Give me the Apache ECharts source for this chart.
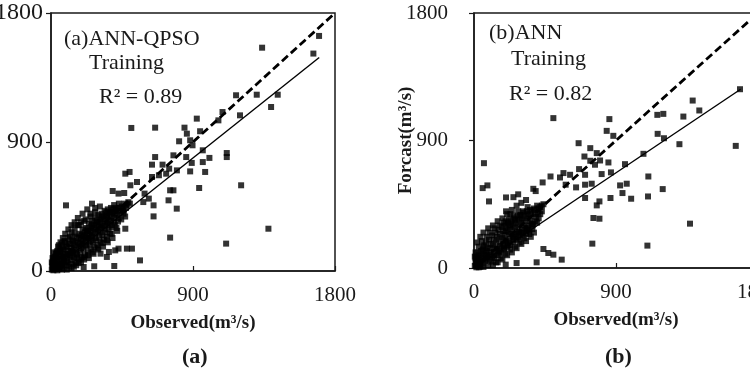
<!DOCTYPE html>
<html><head><meta charset="utf-8">
<script src="https://cdn.jsdelivr.net/npm/echarts@6/dist/echarts.min.js"></script>
<style>html,body{margin:0;padding:0;background:#fff}#c{width:750px;height:375px}</style>
</head><body><div id="c"></div>
<script>
// ---- data ----
const axisTicks = [0, 900, 1800];
const identityLine = [[0, 0], [1800, 1800]];
const fitA = [[0, 0], [1700, 1490]];
const fitB = [[0, 0], [1690, 1262]];

const outliersA = [[1699,1640],[1338,1558],[1663,1517],[1173,1226],[1304,1230],[1437,1230],[1395,1144],[1087,1109],[1198,1086],[1061,1051],[924,1063],[509,998],[660,1000],[846,1000],[861,958],[945,975],[882,912],[812,905],[897,877],[962,842],[776,807],[660,795],[857,795],[1004,789],[962,760],[892,754],[1114,823],[1114,795],[640,742],[707,742],[749,714],[798,702],[882,695],[977,691],[939,579],[1205,598],[730,679],[684,668],[640,656],[498,691],[471,679],[545,621],[503,598],[464,544],[391,558],[428,540],[593,540],[755,563],[776,563],[797,435],[745,493],[650,458],[585,481],[620,505],[650,381],[471,295],[1378,295],[95,458],[755,233],[1110,191],[428,156],[481,156],[513,156],[407,144],[564,74],[401,35],[274,33],[207,28],[367,133],[314,121],[354,98]];
const blobA = [[5,10],[10,30],[15,5],[20,45],[25,15],[30,60],[35,25],[40,80],[45,40],[50,15],[50,100],[55,60],[60,30],[60,130],[65,85],[70,50],[75,110],[80,20],[80,150],[85,70],[90,120],[95,40],[100,170],[100,95],[105,60],[110,140],[115,30],[120,190],[120,110],[125,75],[130,160],[135,50],[140,210],[140,130],[145,95],[150,180],[155,60],[160,240],[160,150],[165,115],[170,200],[175,80],[180,260],[180,170],[185,130],[190,220],[195,95],[200,290],[200,190],[205,150],[210,240],[215,110],[220,300],[220,205],[225,170],[230,260],[235,130],[240,330],[240,225],[245,185],[250,280],[255,150],[260,350],[260,240],[265,200],[270,300],[275,165],[280,370],[280,260],[285,215],[290,320],[295,180],[300,390],[300,275],[305,235],[310,340],[315,200],[320,400],[320,300],[325,250],[330,360],[335,220],[340,420],[340,315],[345,270],[350,380],[355,240],[360,430],[360,330],[365,290],[370,400],[375,260],[380,440],[380,350],[385,305],[390,415],[400,460],[400,370],[405,320],[410,430],[420,390],[425,345],[430,470],[440,410],[445,360],[450,450],[460,420],[470,380],[480,460],[30,120],[45,170],[60,200],[75,230],[90,260],[110,290],[130,320],[150,340],[170,370],[200,400],[230,430],[260,470],[100,10],[130,20],[160,40],[190,60],[210,80],[240,90],[270,120],[300,150],[330,170],[360,200],[390,230],[420,280],[250,380],[280,410],[310,450],[150,260],[120,240],[180,320],[210,350],[60,160],[85,210],[10,90],[20,130],[5,60],[40,5],[70,10]];
const blobA2 = [[15,70],[25,100],[35,130],[45,20],[55,140],[65,40],[75,150],[85,100],[95,170],[105,120],[115,190],[125,140],[135,220],[145,165],[155,200],[165,90],[175,230],[185,190],[195,250],[205,220],[215,270],[225,230],[235,290],[245,250],[255,310],[265,270],[275,330],[285,290],[295,340],[305,310],[315,360],[325,320],[335,380],[345,340],[355,390],[365,360],[375,410],[385,380],[395,430],[405,400],[415,440],[425,420],[435,440],[455,430],[465,470],[475,440],[490,480],[500,470],[100,60],[130,100],[160,120],[190,160],[220,180],[250,210],[280,230],[310,270],[340,290],[370,320],[400,340],[430,370],[460,400],[145,30],[175,55],[205,95],[235,110],[265,130],[295,160],[325,195],[355,215],[385,260],[415,300],[90,200],[110,230],[130,270],[150,300],[170,320],[190,340],[220,360],[250,400],[280,440],[40,140],[50,180],[70,190],[20,90],[8,50],[12,20],[30,40],[55,45],[80,80],[60,100],[35,100],[200,250],[230,280],[260,320],[290,350],[320,380],[350,410]];

const outliersB = [[1686,1262],[503,1058],[858,1051],[1386,1182],[1428,1112],[1162,1081],[1200,1088],[1327,1069],[841,968],[883,933],[1164,947],[1204,916],[1302,874],[1659,862],[663,881],[737,846],[700,787],[778,811],[737,757],[799,759],[767,729],[852,745],[1074,806],[957,733],[809,663],[868,675],[704,658],[666,698],[609,658],[567,670],[545,639],[485,646],[435,604],[376,559],[391,543],[581,588],[647,569],[704,588],[746,595],[926,583],[968,595],[941,529],[996,489],[865,494],[1105,646],[1196,557],[1103,505],[795,470],[778,442],[704,494],[757,353],[795,348],[1369,313],[750,172],[1099,158],[63,740],[55,564],[85,583],[95,470],[203,498],[203,400],[556,59],[503,94],[471,106],[440,134],[397,40],[270,35],[201,24]];
const blobB = [[5,15],[10,40],[15,5],[20,60],[25,25],[30,90],[35,45],[40,10],[45,120],[50,70],[55,30],[60,150],[65,95],[70,50],[75,180],[80,120],[85,75],[90,20],[95,200],[100,140],[105,95],[110,45],[115,230],[120,160],[125,115],[130,70],[135,250],[140,180],[145,135],[150,90],[155,270],[160,200],[165,155],[170,110],[175,290],[180,215],[185,170],[190,130],[195,300],[200,235],[205,190],[210,150],[215,320],[220,250],[225,205],[230,165],[235,330],[240,270],[245,225],[250,185],[255,350],[260,285],[265,240],[270,200],[275,360],[280,300],[285,255],[290,215],[295,375],[300,320],[305,270],[310,230],[315,390],[320,335],[325,285],[330,245],[335,400],[340,350],[345,300],[350,260],[355,410],[360,365],[365,315],[370,275],[380,420],[385,380],[390,330],[400,440],[405,390],[410,350],[420,430],[430,400],[440,450],[60,250],[90,280],[120,300],[150,330],[180,350],[210,380],[240,410],[270,440],[300,460],[330,480],[120,20],[150,40],[180,60],[210,90],[240,110],[270,140],[300,170],[330,190],[360,220],[380,250],[20,180],[40,220],[250,500],[280,520],[310,400],[340,430],[230,380],[200,330],[10,110],[5,80],[30,5],[60,8]];
const blobB2 = [[15,70],[25,110],[35,30],[45,80],[55,130],[65,160],[75,60],[85,140],[95,110],[105,170],[115,80],[125,200],[135,140],[145,220],[155,120],[165,240],[175,160],[185,260],[195,200],[205,280],[215,180],[225,290],[235,240],[245,310],[255,220],[265,320],[275,260],[285,340],[295,250],[305,350],[315,300],[325,370],[335,280],[345,380],[355,330],[365,400],[375,310],[385,410],[395,360],[410,420],[420,380],[430,440],[100,60],[130,90],[160,110],[190,140],[220,160],[250,200],[280,220],[310,250],[340,270],[370,300],[400,320],[140,40],[170,70],[200,100],[230,130],[260,150],[290,180],[320,210],[350,240],[80,220],[100,250],[130,280],[160,300],[190,320],[220,340],[250,370],[280,400],[30,150],[50,190],[10,70],[20,30],[40,50],[60,110],[80,90],[200,260],[230,300],[260,340],[290,370]];

const panelTitles = [["(a)ANN-QPSO", "Training", "R² = 0.89"], ["(b)ANN", "Training", "R² = 0.82"]];
const captions = ["(a)", "(b)"];
const xName = "Observed(m³/s)";
const yName = "Forcast(m³/s)";

// ---- chart ----
const FONT = '"Liberation Serif", "Times New Roman", serif';
const INK = '#1a1a1a';
const chart = echarts.init(document.getElementById('c'), null, {renderer: 'canvas'});

function xAxisCfg(i) {
  return {
    gridIndex: i, type: 'value', min: axisTicks[0], max: axisTicks[2], interval: axisTicks[1],
    name: xName, nameLocation: 'middle', nameGap: 43,
    nameTextStyle: {fontFamily: FONT, fontWeight: 'bold', fontSize: 19, color: INK},
    axisLine: {show: true, lineStyle: {color: INK, width: 1.5}},
    axisTick: {show: true, inside: true, length: 5, lineStyle: {color: INK, width: 1.2}},
    axisLabel: {fontFamily: FONT, fontSize: 21, color: INK, margin: 14, formatter: v => String(v)},
    splitLine: {show: false}
  };
}
function yAxisCfg(i, withName, margin, size) {
  const c = {
    gridIndex: i, type: 'value', min: axisTicks[0], max: axisTicks[2], interval: axisTicks[1],
    axisLine: {show: true, lineStyle: {color: INK, width: 1.5}},
    axisTick: {show: true, inside: false, length: 5, lineStyle: {color: INK, width: 1.2}},
    axisLabel: {fontFamily: FONT, fontSize: size, color: INK, margin: margin, formatter: v => String(v)},
    splitLine: {show: false}
  };
  if (withName) {
    c.name = yName; c.nameLocation = 'middle'; c.nameGap = 58; c.nameMoveOverlap = false;
    c.nameTextStyle = {fontFamily: FONT, fontWeight: 'bold', fontSize: 19, color: INK};
  }
  return c;
}
function scatter(i, data) {
  return {type: 'scatter', xAxisIndex: i, yAxisIndex: i, data: data, symbol: 'rect', symbolSize: 6,
    itemStyle: {color: '#000'}, silent: true, z: 2};
}
function line(i, data, dashed) {
  return {type: 'line', xAxisIndex: i, yAxisIndex: i, data: data, symbol: 'none', silent: true, z: 3,
    lineStyle: {color: '#000', width: dashed ? 2.8 : 1.4, type: dashed ? [8, 4] : 'solid'}};
}
function txt(x, y, s, bold, size) {
  return {type: 'text', left: x, top: y, style: {text: s, fontFamily: FONT, fontSize: size || 22,
    fontWeight: bold ? 'bold' : 'normal', fill: INK}};
}

chart.setOption({
  animation: false,
  backgroundColor: '#fff',
  grid: [
    {left: 51, top: 13, width: 284, height: 258, show: true, borderColor: INK, borderWidth: 1.5, containLabel: false, outerBoundsMode: 'none'},
    {left: 474, top: 13, width: 284, height: 255, show: true, borderColor: INK, borderWidth: 1.5, containLabel: false, outerBoundsMode: 'none'}
  ],
  xAxis: [xAxisCfg(0), xAxisCfg(1)],
  yAxis: [yAxisCfg(0, false, 8, 24), yAxisCfg(1, true, 26, 21)],
  series: [
    scatter(0, blobA), scatter(0, blobA2), scatter(0, outliersA), line(0, identityLine, true), line(0, fitA, false),
    scatter(1, blobB), scatter(1, blobB2), scatter(1, outliersB), line(1, identityLine, true), line(1, fitB, false)
  ],
  graphic: [
    txt(64, 28, panelTitles[0][0]), txt(89, 52, panelTitles[0][1]), txt(99, 86, panelTitles[0][2]),
    txt(489, 22, panelTitles[1][0]), txt(511, 48, panelTitles[1][1]), txt(509, 83, panelTitles[1][2]),
    {type: 'text', left: 182, top: 346, style: {text: captions[0], fontFamily: FONT, fontSize: 22, fontWeight: 'bold', fill: INK}},
    {type: 'text', left: 605, top: 346, style: {text: captions[1], fontFamily: FONT, fontSize: 22, fontWeight: 'bold', fill: INK}}
  ]
});
</script></body></html>
